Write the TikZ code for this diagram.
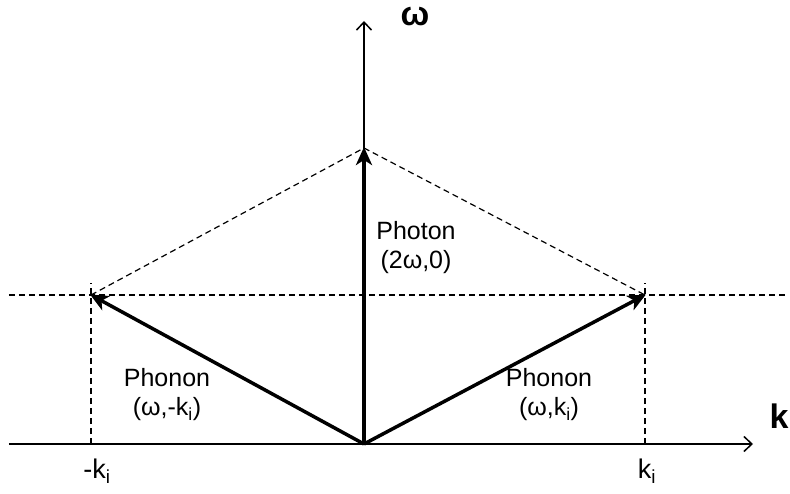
\documentclass[tikz,border=0pt]{standalone}
\usepackage{fontspec}
\setmainfont{Liberation Sans}
\usetikzlibrary{arrows.meta}

\begin{document}
\begin{tikzpicture}[x=1pt, y=1pt,
    axis/.style={line width=1.5pt, -{Straight Barb[length=8pt,width=15pt]}},
    guide/.style={line width=1.2pt, dash pattern=on 6pt off 4pt},
    vec/.style={line width=3.5pt, -{Stealth[length=18pt,width=16pt,inset=5pt]}, shorten >=-1pt},
    lbl/.style={font=\fontsize{25}{29}\selectfont, align=center, inner sep=0pt},
    axlbl/.style={font=\fontsize{34}{40}\selectfont\bfseries, inner sep=0pt}]
      \useasboundingbox (-364,-49) rectangle (426,444);
      \coordinate (O) at (0,0);
      \coordinate (L) at (-273,149);
      \coordinate (R) at (281,149);
      \coordinate (T) at (0,296);

      % guides
      \draw[guide] (-355,149) -- (421,149);
      \draw[guide] (-273,0) -- (-273,161);
      \draw[guide] (281,0) -- (281,161);
      \draw[guide] (L) -- (T) -- (R);

      % axes
      \draw[axis] (-355,0) -- (389,0) coordinate (kend);
      \draw[axis] (O) -- (0,423) coordinate (wend);
      \node[axlbl] (w) at (51,427) {ω};
      \node[axlbl] (k) at (415,28) {k};

      % vectors
      \draw[vec] (O) -- (T);
      \draw[vec] (O) -- (L);
      \draw[vec] (O) -- (R);

      \node[lbl] (photon) at (52,196) {Photon\\(2ω,0)};
      \node[lbl] (phononL) at (-197,49) {Phonon\\(ω,-k\textsubscript{i})};
      \node[lbl] (phononR) at (185,49) {Phonon\\(ω,k\textsubscript{i})};
      \node[lbl, font=\fontsize{27}{30}\selectfont] (kl) at (-267,-27) {-k\textsubscript{i}};
      \node[lbl, font=\fontsize{27}{30}\selectfont] (kr) at (283,-27) {k\textsubscript{i}};
\end{tikzpicture}
\end{document}
